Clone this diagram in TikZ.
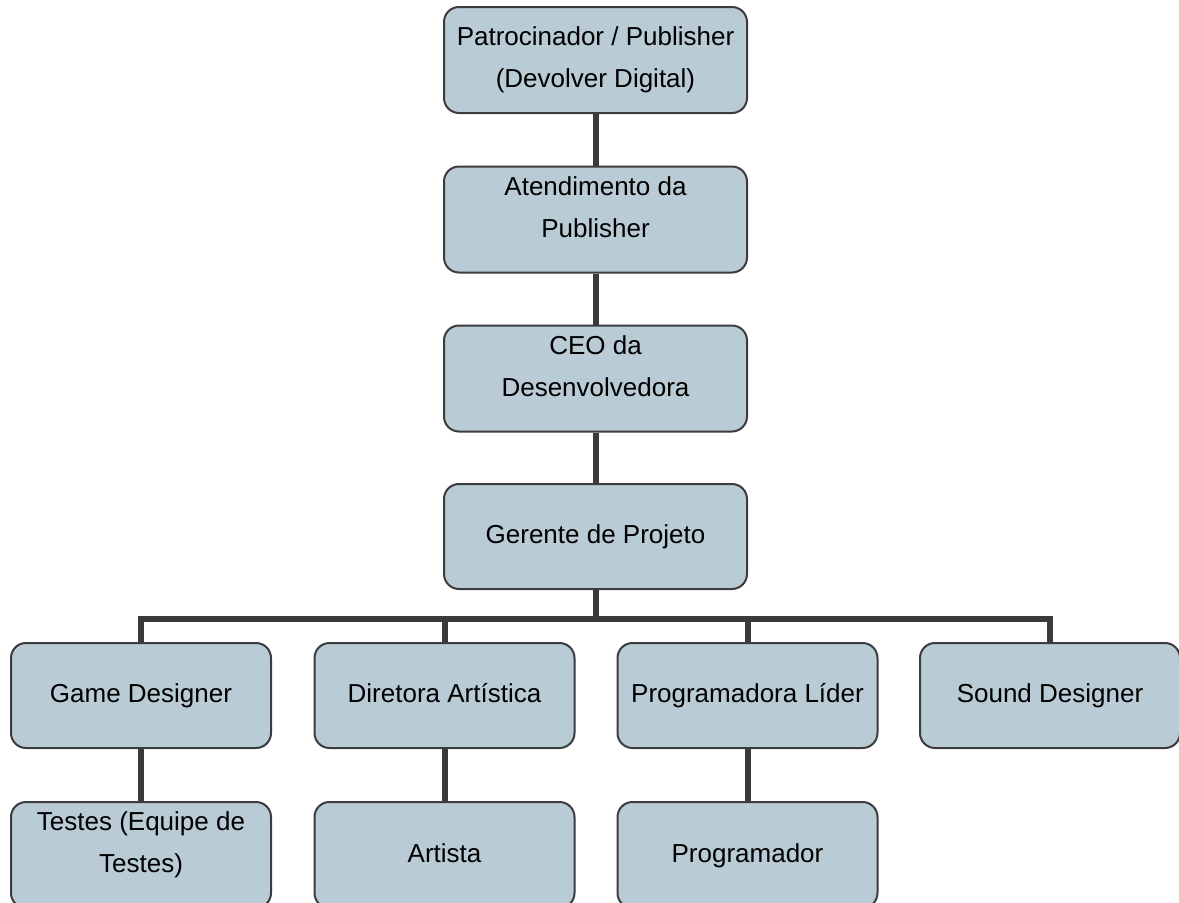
\documentclass[tikz,border=0pt]{standalone}
\usepackage{tikz}
\usetikzlibrary{calc}
\usetikzlibrary{positioning}
\usepackage{fontspec}
\setmainfont{Liberation Sans}
\usepackage{color}
\definecolor{boxblue}{RGB}{185, 203, 212}
\definecolor{boxline}{RGB}{60, 60, 62}
\definecolor{linkgray}{RGB}{58, 58, 60}

\tikzset{
    cargo/.style={rectangle, rounded corners=15pt, fill=boxblue, draw=boxline, line width=2pt,
                  minimum width=303pt, minimum height=106pt, inner sep=0pt, align=center,
                  font=\fontsize{26}{42}\selectfont},
    equipe/.style={cargo, minimum width=260pt},
    umalinha/.style={text height=19pt, text depth=5pt},
    acima/.style={text depth=25pt},
    ligacao/.style={draw=linkgray, line width=6pt}
}

\begin{document}
\begin{tikzpicture}[x=1pt, y=-1pt]
            \useasboundingbox (0,0) rectangle (1179,903);
            \node[cargo]  (patrocinador) at ( 595.5,  60.0) {Patrocinador / Publisher\\(Devolver Digital)};
            \node[cargo, acima]  (atendimento)  at ( 595.5, 219.5) {Atendimento da\\Publisher};
            \node[cargo, acima]  (ceo)          at ( 595.5, 378.5) {CEO da\\Desenvolvedora};
            \node[cargo, umalinha, minimum height=105pt]  (gerente) at ( 595.5, 536.5) {Gerente de Projeto};
            \node[equipe, umalinha, minimum height=105pt] (game)     at ( 141.0, 695.5) {Game Designer};
            \node[equipe, umalinha, minimum height=105pt] (diretora) at ( 444.5, 695.5) {Diretora Artística};
            \node[equipe, umalinha, minimum height=105pt] (lider)    at ( 747.5, 695.5) {Programadora Líder};
            \node[equipe, umalinha, minimum height=105pt] (sound)    at (1050.0, 695.5) {Sound Designer};
            \node[equipe, acima] (testes)          at ( 141.0, 855.0) {Testes (Equipe de\\Testes)};
            \node[equipe, umalinha] (artista)      at ( 444.5, 855.0) {Artista};
            \node[equipe, umalinha] (programador)  at ( 747.5, 855.0) {Programador};
            \coordinate (barra) at (595.5, 619.0);
            \draw[ligacao] (patrocinador) -- (atendimento);
            \draw[ligacao] (atendimento) -- (ceo);
            \draw[ligacao] (ceo) -- (gerente);
            \draw[ligacao] (gerente) -- (barra);
            \draw[ligacao] (game.north) |- (barra) -| (sound.north);
            \draw[ligacao] (diretora.north) -- (diretora.north |- barra);
            \draw[ligacao] (lider.north) -- (lider.north |- barra);
            \draw[ligacao] (game) -- (testes);
            \draw[ligacao] (diretora) -- (artista);
            \draw[ligacao] (lider) -- (programador);
        \end{tikzpicture}
\end{document}
